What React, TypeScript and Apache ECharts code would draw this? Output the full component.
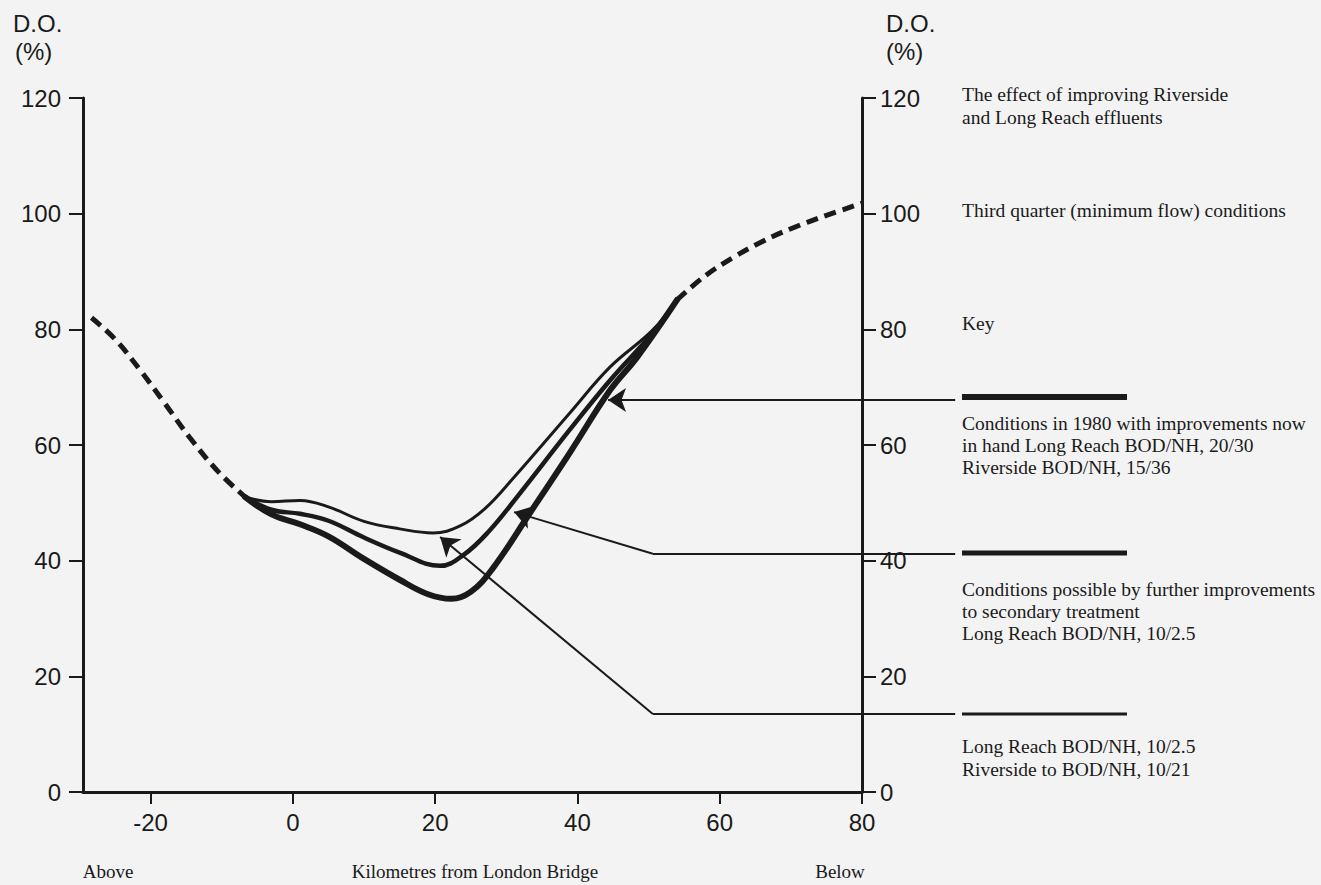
import React, { useEffect, useRef } from "react";
import * as echarts from "echarts";

// ---- data (km from London Bridge, dissolved oxygen %) ----
const xTicks = [-20, 0, 20, 40, 60, 80];
const upstreamKm = [-28.3, -25.0, -21.5, -18.0, -14.5, -10.5, -6.7];
const upstreamDO = [82.0, 78.3, 73.0, 67.2, 61.3, 55.4, 51.0];
const downstreamKm = [54.0, 58.0, 62.0, 66.0, 70.0, 75.0, 80.0];
const downstreamDO = [85.1, 89.3, 92.5, 95.2, 97.4, 99.7, 101.8];

// thin line: Long Reach 10/2.5, Riverside 10/21
const thinKm = [-6.7, -3.0, 1.0, 5.0, 10.0, 15.0, 19.7, 23.5, 27.0, 31.0, 38.9, 44.6, 50.6, 54.0];
const thinDO = [51.0, 50.2, 50.4, 49.3, 46.8, 45.5, 44.8, 46.0, 49.0, 54.3, 65.5, 73.5, 79.9, 85.1];
// medium line: further improvements to secondary treatment
const midKm = [-6.7, -3.0, 1.0, 5.0, 10.0, 15.0, 20.7, 24.0, 27.5, 31.5, 38.9, 44.6, 50.6, 54.0];
const midDO = [51.0, 48.8, 48.1, 46.9, 44.0, 41.4, 39.1, 41.0, 45.0, 51.0, 62.6, 71.2, 79.4, 85.1];
// thick line: conditions in 1980
const thickKm = [-6.7, -3.0, 1.0, 5.0, 10.0, 15.0, 19.0, 22.3, 25.0, 28.0, 33.3, 38.9, 44.6, 48.4, 54.0];
const thickDO = [51.0, 48.0, 46.3, 44.2, 40.3, 36.7, 34.2, 33.4, 34.6, 38.5, 48.2, 58.6, 69.5, 75.2, 85.1];

// pointer lines from the key to the curves [km, DO]
const pointerArrows = [
  [[93.1, 67.8], [44.3, 67.8]],
  [[50.6, 41.2], [31.1, 48.4]],
  [[50.6, 13.5], [20.7, 44.1]],
];
const pointerTails = [
  [[93.1, 41.2], [50.6, 41.2]],
  [[93.1, 13.5], [50.6, 13.5]],
];

const notes = [
  { text: "The effect of improving Riverside", y: 94 },
  { text: "and Long Reach effluents", y: 117 },
  { text: "Third quarter (minimum flow) conditions", y: 210 },
  { text: "Key", y: 323 },
  { text: "Conditions in 1980 with improvements now", y: 423 },
  { text: "in hand Long Reach BOD/NH, 20/30", y: 445 },
  { text: "Riverside BOD/NH, 15/36", y: 467 },
  { text: "Conditions possible by further improvements", y: 589 },
  { text: "to secondary treatment", y: 611 },
  { text: "Long Reach BOD/NH, 10/2.5", y: 633 },
  { text: "Long Reach BOD/NH, 10/2.5", y: 746 },
  { text: "Riverside to BOD/NH, 10/21", y: 769 },
];
const keyLines = [
  { y: 397, w: 6 },
  { y: 553, w: 5 },
  { y: 714, w: 3 },
];
const footer = [
  { text: "Above", x: 108 },
  { text: "Kilometres from London Bridge", x: 475 },
  { text: "Below", x: 840 },
];

const zip = (a: number[], b: number[]) => a.map((v, i) => [v, b[i]]);

const INK = "#1a1a1a";
const SANS = "Liberation Sans, Arial, sans-serif";
const SERIF = "Liberation Serif, Times New Roman, serif";

export default function App() {
  const ref = useRef<HTMLDivElement>(null);
  useEffect(() => {
    if (!ref.current) return;
    const chart = echarts.init(ref.current, null, { renderer: "svg" });
    const yAxisBase = {
      type: "value",
      min: 0,
      max: 120,
      interval: 20,
      splitLine: { show: false },
      axisLine: { show: true, onZero: false, lineStyle: { color: INK, width: 3 } },
      axisTick: { show: true, length: 14, lineStyle: { color: INK, width: 2 } },
      axisLabel: { fontSize: 24, fontFamily: SANS, color: INK },
    };
    const solid = (data: number[][], width: number) => ({
      type: "line",
      data,
      smooth: 0.4,
      showSymbol: false,
      lineStyle: { color: INK, width, cap: "round" },
      z: 3,
    });
    const dashed = (data: number[][]) => ({
      type: "line",
      data,
      smooth: 0.4,
      showSymbol: false,
      lineStyle: { color: INK, width: 5, type: [12, 7], cap: "butt" },
      z: 3,
    });
    chart.setOption({
      animation: false,
      backgroundColor: "#f3f3f3",
      grid: { left: 83, right: 459, top: 98, bottom: 93 },
      xAxis: {
        type: "value",
        min: -29.5,
        max: 80,
        splitLine: { show: false },
        axisLine: { show: true, onZero: false, lineStyle: { color: INK, width: 3 } },
        axisTick: { show: true, customValues: xTicks, length: 12, lineStyle: { color: INK, width: 2 } },
        axisLabel: { customValues: xTicks, fontSize: 24, fontFamily: SANS, color: INK, margin: 18 },
      },
      yAxis: [
        { ...yAxisBase, position: "left", axisLabel: { ...yAxisBase.axisLabel, margin: 22 } },
        { ...yAxisBase, position: "right", axisLabel: { ...yAxisBase.axisLabel, margin: 18 } },
      ],
      series: [
        dashed(zip(upstreamKm, upstreamDO)),
        dashed(zip(downstreamKm, downstreamDO)),
        solid(zip(thinKm, thinDO), 3),
        solid(zip(midKm, midDO), 4.5),
        solid(zip(thickKm, thickDO), 6),
        {
          type: "lines",
          coordinateSystem: "cartesian2d",
          clip: false,
          symbol: ["none", "arrow"],
          symbolSize: [8, 18],
          lineStyle: { color: INK, width: 2, opacity: 1 },
          data: pointerArrows.map((c) => ({ coords: c })),
          z: 4,
        },
        {
          type: "lines",
          coordinateSystem: "cartesian2d",
          clip: false,
          symbol: "none",
          lineStyle: { color: INK, width: 2, opacity: 1 },
          data: pointerTails.map((c) => ({ coords: c })),
          z: 4,
        },
      ],
      graphic: [
        { type: "text", left: 13, top: 11, style: { text: "D.O.", font: `24px ${SANS}`, fill: INK } },
        { type: "text", left: 15, top: 39, style: { text: "(%)", font: `24px ${SANS}`, fill: INK } },
        { type: "text", left: 886, top: 11, style: { text: "D.O.", font: `24px ${SANS}`, fill: INK } },
        { type: "text", left: 886, top: 39, style: { text: "(%)", font: `24px ${SANS}`, fill: INK } },
        ...notes.map((n) => ({
          type: "text",
          x: 962,
          y: n.y,
          style: { text: n.text, font: `19.5px ${SERIF}`, fill: INK, verticalAlign: "middle", align: "left" },
        })),
        ...keyLines.map((k) => ({
          type: "line",
          shape: { x1: 962, y1: k.y, x2: 1127, y2: k.y },
          style: { stroke: INK, lineWidth: k.w },
        })),
        ...footer.map((f) => ({
          type: "text",
          x: f.x,
          y: 871,
          style: { text: f.text, font: `19px ${SERIF}`, fill: INK, align: "center", verticalAlign: "middle" },
        })),
      ],
    });
    return () => chart.dispose();
  }, []);
  return <div ref={ref} style={{ position: "fixed", left: 0, top: 0, width: 1321, height: 885 }} />;
}
